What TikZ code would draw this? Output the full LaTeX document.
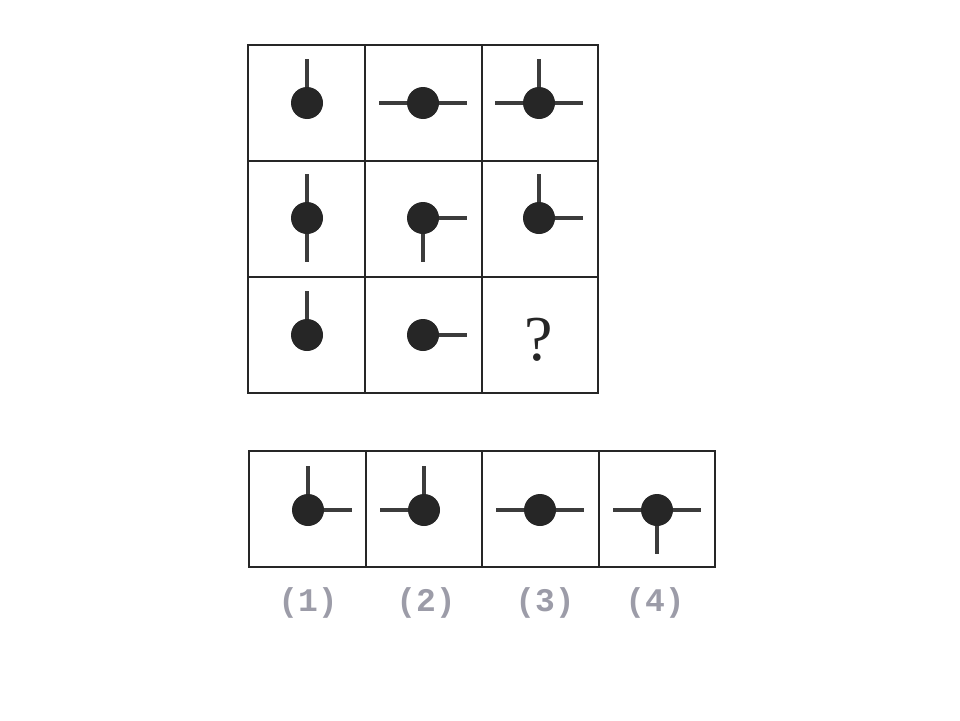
\documentclass[tikz,border=0pt]{standalone}
\usepackage{fontspec}
\newfontfamily\labelfont{Liberation Mono}
\newfontfamily\qfont{Liberation Serif}
\definecolor{labelgray}{HTML}{9C9CA8}
\definecolor{inkdark}{HTML}{262626}
\tikzset{
  gridline/.style={line width=2.8pt, draw=inkdark, line cap=rect},
  stick/.style={line width=3.8pt, draw=inkdark!90},
  blob/.style={circle, fill=inkdark, inner sep=0pt, minimum size=32pt},
  optlabel/.style={font=\labelfont\bfseries\fontsize{33}{36}\selectfont, text=labelgray},
  qmark/.style={font=\qfont\fontsize{64}{70}\selectfont, text=inkdark}
}
\newcommand\pinfig[4]{%
  \coordinate (#1) at (#2,#3);
  \foreach \a in {#4} { \draw[stick] (#1) -- ++(\a:44); }
  \node[blob] (#1dot) at (#1) {};
}
\begin{document}
\begin{tikzpicture}[x=1pt,y=-1pt]
\useasboundingbox (0,0) rectangle (960,720);
% main grid
\draw[gridline] (248,45) rectangle (598,393);
\draw[gridline] (365,45) -- (365,393);
\draw[gridline] (482,45) -- (482,393);
\draw[gridline] (248,161) -- (598,161);
\draw[gridline] (248,277) -- (598,277);
% options box
\draw[gridline] (249,451) rectangle (715,567);
\draw[gridline] (366,451) -- (366,567);
\draw[gridline] (482,451) -- (482,567);
\draw[gridline] (599,451) -- (599,567);
% up=-90, down=90, left=180, right=0
\pinfig{a11}{307}{103}{-90}
\pinfig{a12}{423}{103}{180,0}
\pinfig{a13}{539}{103}{-90,180,0}
\pinfig{a21}{307}{218}{-90,90}
\pinfig{a22}{423}{218}{90,0}
\pinfig{a23}{539}{218}{-90,0}
\pinfig{a31}{307}{335}{-90}
\pinfig{a32}{423}{335}{0}
\node[qmark] (q) at (539,340) {?};
% options
\pinfig{o1}{308}{510}{-90,0}
\pinfig{o2}{424}{510}{-90,180}
\pinfig{o3}{540}{510}{180,0}
\pinfig{o4}{657}{510}{180,0,90}
\node[optlabel] (l1) at (308,603) {(1)};
\node[optlabel] (l2) at (426,603) {(2)};
\node[optlabel] (l3) at (545,603) {(3)};
\node[optlabel] (l4) at (655,603) {(4)};
\end{tikzpicture}
\end{document}
